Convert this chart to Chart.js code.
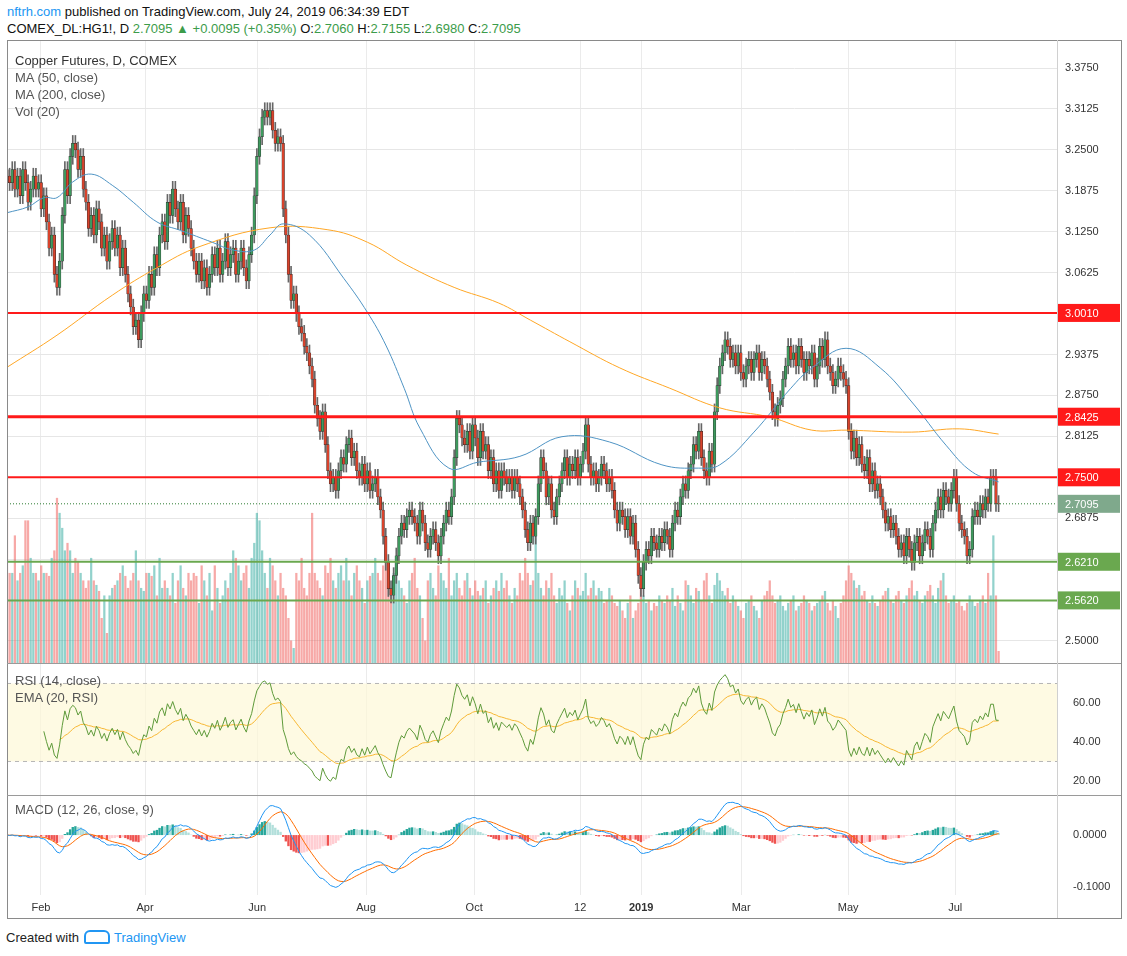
<!DOCTYPE html>
<html><head><meta charset="utf-8">
<script src="https://cdn.jsdelivr.net/npm/chart.js@4"></script>
<style>
body{margin:0;background:#fff;font-family:"Liberation Sans",Arial,sans-serif;width:1127px;height:956px;position:relative;overflow:hidden}
.abs{position:absolute}
.pane{position:absolute;left:0;width:1127px}
.lg{position:absolute;left:15px;font-size:13px;color:#555;line-height:17px}
</style></head><body>
<div class="abs" style="left:7px;top:4px;font-size:13px;color:#111"><span style="color:#2196f3">nftrh.com</span> published on TradingView.com, July 24, 2019 06:34:39 EDT</div>
<div class="abs" style="left:7px;top:21px;font-size:13px;color:#111">COMEX_DL:HG1!, D <span style="color:#3c9c4a">2.7095 ▲ +0.0095 (+0.35%)</span> O:<span style="color:#3c9c4a">2.7060</span> H:<span style="color:#3c9c4a">2.7155</span> L:<span style="color:#3c9c4a">2.6980</span> C:<span style="color:#3c9c4a">2.7095</span></div>
<div class="pane" style="top:40px;height:623px"><canvas id="c1"></canvas></div>
<div class="pane" style="top:663px;height:132px"><canvas id="c2"></canvas></div>
<div class="pane" style="top:795px;height:123px"><canvas id="c3"></canvas></div>
<div class="abs" style="left:7px;top:40px;width:1113px;height:877px;border:1px solid #8a8a8a;pointer-events:none"></div>
<div class="abs" style="left:7px;top:663px;width:1114px;height:1px;background:#9a9a9a"></div>
<div class="abs" style="left:7px;top:795px;width:1114px;height:1px;background:#9a9a9a"></div>
<div class="abs" style="left:1057px;top:40px;width:1px;height:878px;background:#d0d0d0"></div>
<div class="lg" style="top:52px"><span style="color:#333">Copper Futures, D, COMEX</span><br>MA (50, close)<br>MA (200, close)<br>Vol (20)</div>
<div class="lg" style="top:672px">RSI (14, close)<br>EMA (20, RSI)</div>
<div class="lg" style="top:801px">MACD (12, 26, close, 9)</div>
<div class="abs" style="left:6px;top:930px;font-size:13px;color:#222">Created with <span style="display:inline-block;width:22px;height:10px;border:2px solid #2196f3;border-radius:6px 6px 2px 2px;vertical-align:-2px;margin:0 1px"></span> <span style="color:#2196f3">TradingView</span></div>
<script>
const closes=[
3.21,3.20,3.22,3.19,3.21,3.18,3.22,3.20,3.17,3.19,
3.21,3.19,3.20,3.16,3.18,3.14,3.10,3.12,3.06,3.04,
3.08,3.15,3.22,3.18,3.24,3.26,3.25,3.22,3.24,3.19,
3.17,3.13,3.15,3.12,3.16,3.14,3.10,3.12,3.08,3.11,
3.13,3.10,3.12,3.07,3.10,3.06,3.03,3.01,2.98,2.99,
2.96,3.00,3.03,3.02,3.06,3.04,3.09,3.07,3.12,3.14,
3.11,3.17,3.15,3.19,3.16,3.14,3.17,3.12,3.15,3.13,
3.10,3.08,3.06,3.08,3.05,3.07,3.04,3.06,3.09,3.07,
3.10,3.06,3.08,3.11,3.07,3.09,3.10,3.06,3.08,3.10,
3.07,3.05,3.09,3.12,3.18,3.24,3.27,3.30,3.31,3.30,
3.31,3.28,3.26,3.27,3.26,3.16,3.12,3.06,3.02,3.03,
3.00,2.98,2.97,2.95,2.94,2.92,2.90,2.86,2.84,2.82,
2.85,2.80,2.76,2.74,2.75,2.73,2.76,2.78,2.77,2.80,
2.81,2.78,2.79,2.76,2.75,2.77,2.74,2.76,2.73,2.74,
2.75,2.72,2.70,2.66,2.62,2.58,2.57,2.60,2.63,2.66,
2.68,2.67,2.69,2.70,2.69,2.68,2.66,2.70,2.68,2.65,
2.64,2.66,2.67,2.65,2.63,2.66,2.68,2.70,2.69,2.72,
2.78,2.84,2.83,2.81,2.80,2.82,2.79,2.83,2.81,2.78,
2.82,2.79,2.80,2.76,2.78,2.74,2.76,2.73,2.76,2.75,
2.74,2.75,2.73,2.75,2.74,2.72,2.70,2.67,2.65,2.68,
2.66,2.69,2.74,2.78,2.76,2.72,2.74,2.70,2.69,2.72,
2.74,2.76,2.78,2.75,2.77,2.76,2.78,2.75,2.77,2.79,
2.83,2.77,2.75,2.76,2.74,2.75,2.77,2.76,2.74,2.75,
2.73,2.70,2.68,2.70,2.69,2.67,2.69,2.66,2.68,2.64,
2.60,2.58,2.62,2.64,2.63,2.66,2.65,2.64,2.66,2.65,
2.67,2.66,2.64,2.68,2.70,2.69,2.72,2.74,2.73,2.76,
2.77,2.80,2.79,2.82,2.78,2.76,2.75,2.79,2.77,2.85,
2.89,2.92,2.94,2.96,2.95,2.93,2.94,2.92,2.94,2.91,
2.90,2.92,2.93,2.91,2.93,2.94,2.91,2.93,2.92,2.90,
2.88,2.85,2.84,2.86,2.87,2.90,2.92,2.95,2.93,2.94,
2.92,2.95,2.93,2.91,2.93,2.92,2.94,2.90,2.92,2.95,
2.93,2.96,2.92,2.91,2.89,2.90,2.92,2.91,2.90,2.89,
2.82,2.79,2.81,2.78,2.80,2.77,2.76,2.78,2.74,2.76,
2.73,2.74,2.72,2.70,2.68,2.69,2.67,2.68,2.66,2.64,
2.65,2.63,2.66,2.64,2.62,2.65,2.66,2.63,2.65,2.67,
2.66,2.64,2.68,2.70,2.72,2.70,2.73,2.72,2.71,2.73,
2.75,2.71,2.68,2.67,2.66,2.63,2.64,2.69,2.70,2.69,
2.71,2.70,2.72,2.71,2.75,2.75,2.71,2.7095];
const firstOpen=3.22;
const volumes=[
125,60,60,85,55,60,65,95,95,70, 60,60,55,65,60,60,58,70,75,110,
100,90,75,80,75,60,70,68,60,55, 50,55,70,55,52,48,30,45,20,45,
50,52,55,60,65,58,50,55,60,75, 55,50,48,60,60,58,65,45,70,50,
55,50,45,60,40,55,65,50,45,60, 55,60,58,40,65,55,45,60,35,65,
50,40,45,55,50,60,75,70,65,55, 60,65,50,70,80,100,95,75,60,50,
70,65,55,45,60,50,45,30,15,10, 60,55,70,50,45,60,100,60,55,50,
45,65,60,70,55,50,60,65,55,70, 55,45,60,65,55,50,40,55,58,60,
70,60,55,65,75,55,50,60,62,55, 50,45,40,55,60,70,50,45,30,15,
55,60,50,45,65,60,55,50,70,45, 55,60,50,45,55,60,50,45,55,48,
45,50,55,40,45,50,55,48,60,50, 55,45,40,50,45,60,55,70,60,52,
55,85,60,50,45,55,50,60,45,40, 50,45,55,40,35,45,55,50,45,48,
60,45,50,55,45,50,48,40,42,50, 45,40,38,42,35,30,40,45,30,35,
40,55,45,40,42,35,40,38,45,42, 40,45,42,50,38,45,40,35,55,52,
45,40,50,48,42,55,60,45,40,52, 60,55,48,45,50,40,45,42,38,35,
30,40,42,45,38,35,30,42,45,48, 55,45,40,42,45,38,35,40,42,45,
35,38,40,45,42,40,35,38,40,42, 45,48,40,35,42,38,30,40,45,55,
65,60,55,50,52,45,48,42,40,45, 40,38,42,45,48,50,42,40,45,48,
42,40,45,50,55,45,48,42,40,45, 48,52,45,40,50,55,60,45,40,42,
45,40,42,38,35,40,45,42,38,40, 42,45,40,60,45,85,45,8];
const ma50Idx=[0,8,14,19,25,32,40,48,57,66,78,86,94,100,105,115,128,137,144,151,157,168,179,195,211,229,249,263,271,284,298,306,319,332,344,357,367,377];
const ma50Val=[3.154,3.163,3.177,3.177,3.201,3.213,3.196,3.17,3.14,3.127,3.109,3.097,3.097,3.12,3.137,3.12,3.054,3.002,2.952,2.886,2.825,2.764,2.773,2.782,2.812,2.804,2.769,2.764,2.769,2.819,2.886,2.917,2.947,2.917,2.865,2.799,2.758,2.743];
const ma200Idx=[0,19,40,57,73,100,122,137,152,170,187,199,214,233,252,271,290,306,319,344,362,377];
const ma200Val=[2.918,2.967,3.028,3.070,3.102,3.131,3.128,3.109,3.074,3.04,3.016,2.99,2.957,2.917,2.886,2.856,2.842,2.822,2.822,2.819,2.824,2.816];
const priceTicks=[2.5,2.5625,2.625,2.6875,2.75,2.8125,2.875,2.9375,3.0,3.0625,3.125,3.1875,3.25,3.3125,3.375];
const timeTickIdx=[12.9,52.5,95.1,136.5,177.6,217.9,241.1,279.1,319.8,360.5];
const timeTickLbl=["Feb","Apr","Jun","Aug","Oct","12","2019","Mar","May","Jul"];
const levelVals=[3.0010,2.8425,2.7500,2.6210,2.5620];
const levelLbls=["3.0010","2.8425","2.7500","2.6210","2.5620"];
const levelCols=["#ff1a1a","#ff1a1a","#ff1a1a","#6aa84f","#6aa84f"];
const levelW=[2,3,2,2,2];
const lastPrice=2.7095;

const N=closes.length;
const opens=closes.map((c,i)=>i?closes[i-1]:firstOpen);
const up=closes.map((c,i)=>c>=opens[i]);
const XMAX=399.2;
const FONT={family:"Liberation Sans",size:11};
const fitY=s=>{s.width=70;s.paddingTop=0;s.paddingBottom=0;};
function yAxis(lo,hi,ticks,fmt,grid){return {position:'right',min:lo,max:hi,bounds:'data',afterFit:fitY,
 afterBuildTicks:a=>{a.ticks=ticks.map(v=>({value:v}));a.min=lo;a.max=hi;},
 grid:grid?{color:'#e6e6e6',drawTicks:false}:{display:false},border:{display:false},
 ticks:{color:'#333',font:FONT,padding:8,callback:v=>v.toFixed(fmt)}};}
function xAxis(show){return {type:'linear',min:0,max:XMAX,offset:false,bounds:'data',
 afterBuildTicks:a=>{a.ticks=timeTickIdx.map(v=>({value:v}));a.min=0;a.max=XMAX;},
 afterFit:s=>{s.height=show?23:0;s.paddingLeft=0;s.paddingRight=0;},border:{display:false},
 grid:{color:'#ebebeb',drawTicks:false,offset:false},
 ticks:{display:show,color:'#333',padding:6,maxRotation:0,autoSkip:false,
  font:c=>({family:"Liberation Sans",size:11,weight:c.index===6?'bold':'normal'}),
  callback:(v,i)=>timeTickLbl[i]}};}
const baseOpts={responsive:true,maintainAspectRatio:false,animation:false,layout:{padding:{left:7,top:0,bottom:0,right:0},autoPadding:false},
  plugins:{legend:{display:false},tooltip:{enabled:false}}};

const bodies=closes.map((c,i)=>({x:i,y:[Math.min(c,opens[i]),Math.max(c,opens[i])+(c===opens[i]?0.002:0)]}));
const wicks=closes.map((c,i)=>({x:i,y:[Math.min(c,opens[i])-0.012,Math.max(c,opens[i])+0.012]}));
const levelPlugin={id:'lv',afterDatasetsDraw(ch){const y=ch.scales.y,ctx=ch.ctx,a=ch.chartArea;ctx.save();
 const ly=y.getPixelForValue(lastPrice);ctx.strokeStyle='#2e7d32';ctx.setLineDash([1,2]);ctx.lineWidth=1;ctx.beginPath();ctx.moveTo(a.left,ly);ctx.lineTo(a.right,ly);ctx.stroke();ctx.setLineDash([]);
 levelVals.forEach((v,k)=>{const p=y.getPixelForValue(v);ctx.strokeStyle=levelCols[k];ctx.lineWidth=levelW[k];ctx.beginPath();ctx.moveTo(a.left,p);ctx.lineTo(a.right,p);ctx.stroke();
  ctx.fillStyle=levelCols[k];ctx.fillRect(a.right+1,p-9,62,18);ctx.fillStyle='#fff';ctx.font='11px "Liberation Sans"';ctx.textBaseline='middle';ctx.fillText(levelLbls[k],a.right+8,p+1);});
 ctx.fillStyle='#7fa98c';ctx.fillRect(a.right+1,ly-9,62,18);ctx.fillStyle='#fff';ctx.fillText(lastPrice.toFixed(4),a.right+8,ly+1);
 ctx.restore();}};
new Chart(document.getElementById('c1'),{type:'bar',
 data:{datasets:[
  {type:'line',data:ma50Idx.map((x,i)=>({x,y:ma50Val[i]})),borderColor:'#4f94c4',borderWidth:1,pointRadius:0,tension:0.4,order:1},
  {type:'line',data:ma200Idx.map((x,i)=>({x,y:ma200Val[i]})),borderColor:'#ffa726',borderWidth:1,pointRadius:0,tension:0.4,order:1},
  {data:bodies,backgroundColor:up.map(u=>u?'#3e9a5e':'#d8432c'),borderColor:'#2b2b2b',borderWidth:0.5,borderSkipped:false,barPercentage:1,categoryPercentage:1,grouped:false,order:2},
  {data:wicks,backgroundColor:'#666',barThickness:1,grouped:false,order:3},
  {data:volumes.map((v,i)=>({x:i,y:v})),yAxisID:'yv',backgroundColor:up.map(u=>u?'rgba(38,166,154,0.5)':'rgba(239,83,80,0.5)'),barPercentage:0.85,categoryPercentage:1,grouped:false,order:5}
 ]},
 options:{...baseOpts,
  scales:{x:xAxis(false),y:yAxis(2.4664,3.4178,priceTicks,4,true),
   yv:{display:false,min:0,max:415,bounds:'data',afterBuildTicks:a=>{a.min=0;a.max=415;}}}},
 plugins:[levelPlugin]});

const rsi=new Array(N).fill(null);
let ag=0,al=0;
for(let i=1;i<=14;i++){const d=closes[i]-closes[i-1];if(d>0)ag+=d;else al-=d;}
ag/=14;al/=14;rsi[14]=100-100/(1+ag/al);
for(let i=15;i<N;i++){const d=closes[i]-closes[i-1];ag=(ag*13+Math.max(d,0))/14;al=(al*13+Math.max(-d,0))/14;rsi[i]=100-100/(1+ag/al);}
const rsiEma=new Array(N).fill(null);let e=null;
for(let i=14;i<N;i++){e=e===null?rsi[i]:e+(rsi[i]-e)*2/21;if(i>=20)rsiEma[i]=e;}
const band={id:'band',beforeDatasetsDraw(ch){const y=ch.scales.y,a=ch.chartArea,ctx=ch.ctx;const t=y.getPixelForValue(70),b=y.getPixelForValue(30);
 ctx.save();ctx.fillStyle='rgba(253,248,215,0.7)';ctx.fillRect(a.left,t,a.right-a.left,b-t);ctx.strokeStyle='#b5b5b5';ctx.setLineDash([4,4]);ctx.lineWidth=1;
 [t,b].forEach(p=>{ctx.beginPath();ctx.moveTo(a.left,p);ctx.lineTo(a.right,p);ctx.stroke();});ctx.restore();}};
new Chart(document.getElementById('c2'),{type:'line',
 data:{datasets:[
  {data:rsi.map((v,i)=>({x:i,y:v})),borderColor:'#5e9a3a',borderWidth:1,pointRadius:0},
  {data:rsiEma.map((v,i)=>({x:i,y:v})),borderColor:'#f7b733',borderWidth:1,pointRadius:0}]},
 options:{...baseOpts,scales:{x:xAxis(false),y:yAxis(12.8,80.5,[20,40,60],2,false)}},
 plugins:[band]});

function ema(arr,n){const out=[];let v=arr[0];const k=2/(n+1);arr.forEach((x,i)=>{v=i?v+(x-v)*k:x;out.push(v)});return out;}
const e12=ema(closes,12),e26=ema(closes,26);
const macd=closes.map((c,i)=>e12[i]-e26[i]);
const sig=ema(macd,9);
const hist=macd.map((m,i)=>m-sig[i]);
const histCol=hist.map((h,i)=>{const p=i?hist[i-1]:h;return h>=0?(h>=p?'#26a69a':'#b2dfdb'):(h<=p?'#ef5350':'#ffcdd2');});
new Chart(document.getElementById('c3'),{type:'bar',
 data:{datasets:[
  {type:'line',data:macd.map((v,i)=>({x:i,y:v})),borderColor:'#2196f3',borderWidth:1,pointRadius:0,order:1},
  {type:'line',data:sig.map((v,i)=>({x:i,y:v})),borderColor:'#ff6d00',borderWidth:1,pointRadius:0,order:1},
  {data:hist.map((v,i)=>({x:i,y:v})),backgroundColor:histCol,barPercentage:0.9,categoryPercentage:1,order:3}]},
 options:{...baseOpts,scales:{x:xAxis(true),y:yAxis(-0.115,0.0769,[-0.1,0],4,false)}}});
</script></body></html>
